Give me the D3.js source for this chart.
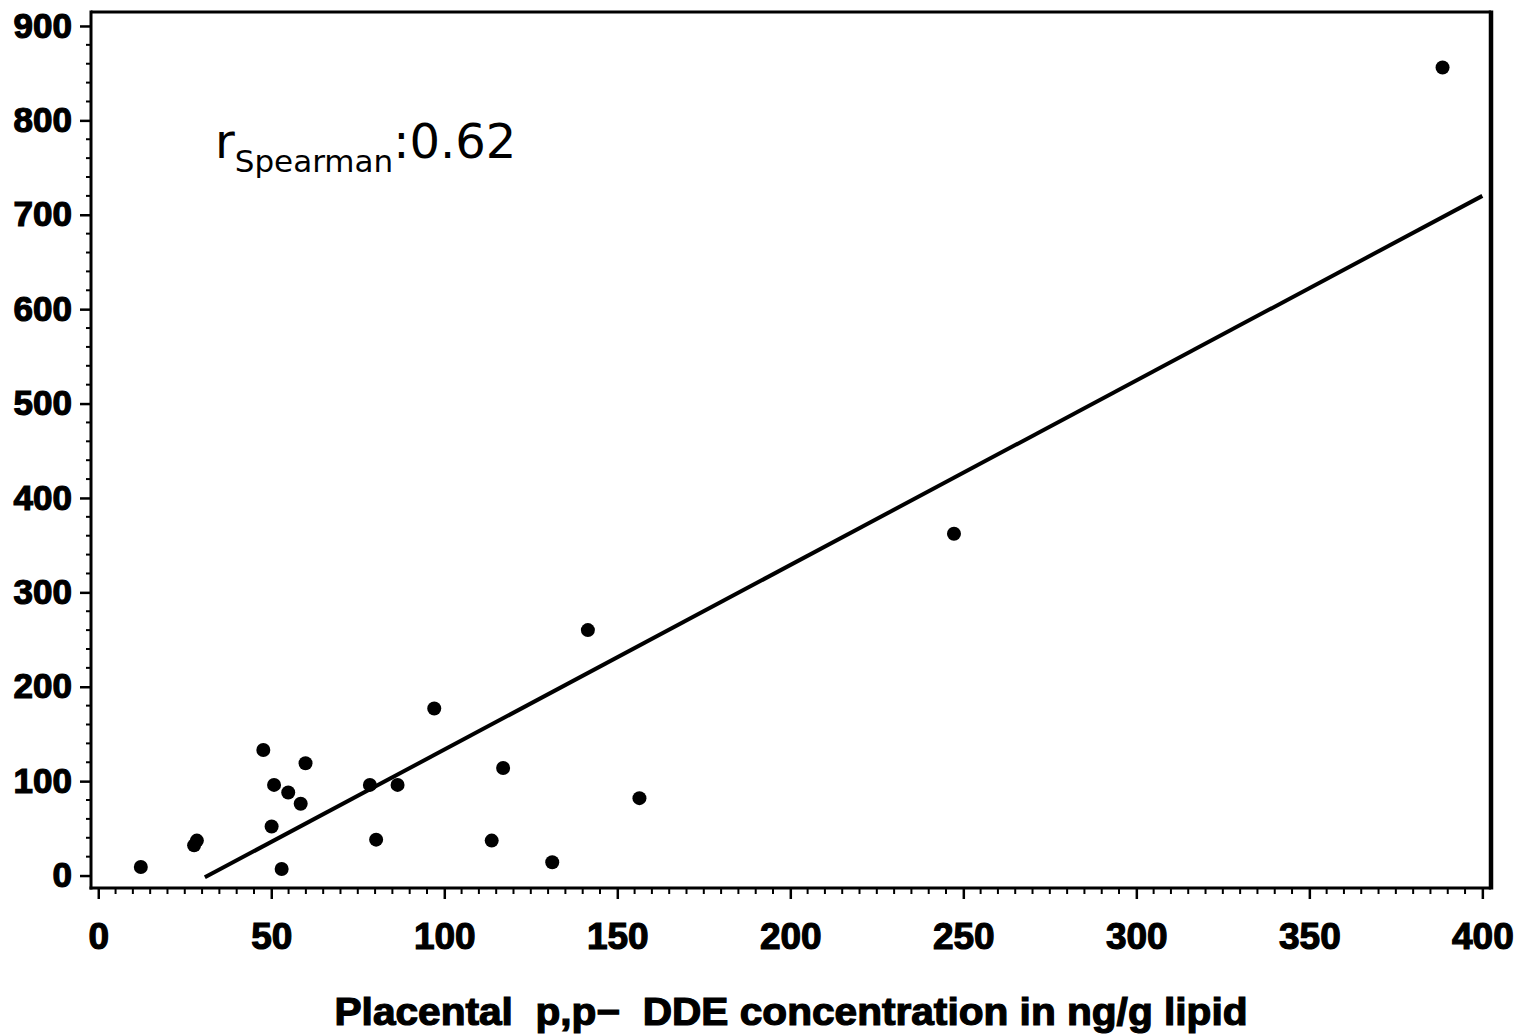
<!DOCTYPE html>
<html>
<head>
<meta charset="utf-8">
<script src="https://d3js.org/d3.v7.min.js"></script>
<style>
	body { margin: 0; background: #fff; }
	svg { display: block; }
	.tick text { font-family: "Liberation Sans", Arial, sans-serif; font-weight: bold; fill: #000; stroke: #000; stroke-width: 1.2px; }
</style>
</head>
<body>
<svg width="1520" height="1034"></svg>
<script>
// Placental vs maternal p,p'-DDE scatter with fitted line
/* global d3 */

// placental concentration (ng/g lipid)
var placental = [12.3, 27.7, 28.5, 47.7, 59.9, 50.8, 54.9, 58.5, 50.1, 53.0,
	78.5, 86.5, 80.3, 97.1, 117.0, 113.7, 131.2, 156.4, 141.5, 247.3, 388.5]
// second measure (y axis)
var other = [9, 32, 37, 133, 119, 96, 88, 76, 52, 7,
	96, 96, 38, 177, 114, 37, 14, 82, 260, 362, 856]
// fitted line end points
var fitX = [30.8, 400]
var fitY = [-1.9, 720]

var xTicks = [0, 50, 100, 150, 200, 250, 300, 350, 400]
var yTicks = [0, 100, 200, 300, 400, 500, 600, 700, 800, 900]
var xTitle = 'Placental  p,p\u2212  DDE concentration in ng/g lipid'

const margin = {top: 12, right: 29, bottom: 146, left: 91}
var svg = d3.select('svg')
var W = +svg.attr('width') - margin.left - margin.right
var H = +svg.attr('height') - margin.top - margin.bottom

var x = d3.scaleLinear().domain([-2.1, 402.5]).range([0, W])
var y = d3.scaleLinear().domain([-13.2, 914.8]).range([H, 0])

var g = svg.append('g')
	.attr('transform', 'translate(' + margin.left + ',' + margin.top + ')')

// frame (top + right)
g.append('line').attr('x1', 0).attr('x2', W).attr('y1', 0).attr('y2', 0)
	.attr('stroke', '#000').attr('stroke-width', 3)
g.append('line').attr('x1', W).attr('x2', W).attr('y1', -1.5).attr('y2', H + 1.5)
	.attr('stroke', '#000').attr('stroke-width', 4.5)

// minor ticks
var xMinor = d3.range(0, 401, 5).filter(function(d) { return d % 50 !== 0 })
var yMinor = d3.range(0, 901, 20).filter(function(d) { return d % 100 !== 0 })

g.append('g').selectAll('line').data(xMinor).enter().append('line')
	.attr('x1', x).attr('x2', x).attr('y1', H).attr('y2', H + 6)
	.attr('stroke', '#000').attr('stroke-width', 2)
g.append('g').selectAll('line').data(yMinor).enter().append('line')
	.attr('y1', y).attr('y2', y).attr('x1', 0).attr('x2', -5)
	.attr('stroke', '#000').attr('stroke-width', 2)

// axes
var xAxis = g.append('g').attr('transform', 'translate(0,' + H + ')')
	.call(d3.axisBottom(x).tickValues(xTicks).tickSize(11).tickPadding(24).tickSizeOuter(0))
var yAxis = g.append('g')
	.call(d3.axisLeft(y).tickValues(yTicks).tickSize(11).tickPadding(8).tickSizeOuter(0))

xAxis.select('.domain').attr('stroke-width', 3).attr('d', 'M-1.5,0H' + W)
yAxis.select('.domain').attr('stroke-width', 3).attr('d', 'M0,' + (H + 1.5) + 'V-1.5')
xAxis.selectAll('.tick line').attr('stroke-width', 2.5)
yAxis.selectAll('.tick line').attr('stroke-width', 2.5)
xAxis.selectAll('.tick text').style('font-size', '37px')
yAxis.selectAll('.tick text').style('font-size', '35px')

// fitted line
var line = d3.line()
	.x(function(d) { return x(d[0]) })
	.y(function(d) { return y(d[1]) })
g.append('path').datum(d3.zip(fitX, fitY))
	.attr('fill', 'none').attr('stroke', '#000').attr('stroke-width', 4)
	.attr('d', line)

// points
g.append('g').selectAll('circle').data(d3.zip(placental, other)).enter().append('circle')
	.attr('cx', function(d) { return x(d[0]) })
	.attr('cy', function(d) { return y(d[1]) })
	.attr('r', 7)
	.attr('fill', '#000')

// annotation
var ann = svg.append('text')
	.attr('x', 215).attr('y', 158)
	.style('font-family', '"Comic Sans MS", "DejaVu Sans", sans-serif')
	.style('font-size', '48px')
	.attr('fill', '#000')
ann.append('tspan').text('r')
ann.append('tspan').attr('dy', 14).style('font-size', '31px').text('Spearman')
ann.append('tspan').attr('dy', -14).text(':0.62')

// x axis title
svg.append('text')
	.attr('x', margin.left + W / 2).attr('y', 1025)
	.attr('text-anchor', 'middle')
	.attr('textLength', 913).attr('lengthAdjust', 'spacingAndGlyphs')
	.style('white-space', 'pre')
	.style('font-family', '"Liberation Sans", Arial, sans-serif')
	.style('font-weight', 'bold')
	.style('font-size', '38px')
	.attr('fill', '#000').attr('stroke', '#000').attr('stroke-width', 1.2)
	.text(xTitle)
</script>
</body>
</html>
